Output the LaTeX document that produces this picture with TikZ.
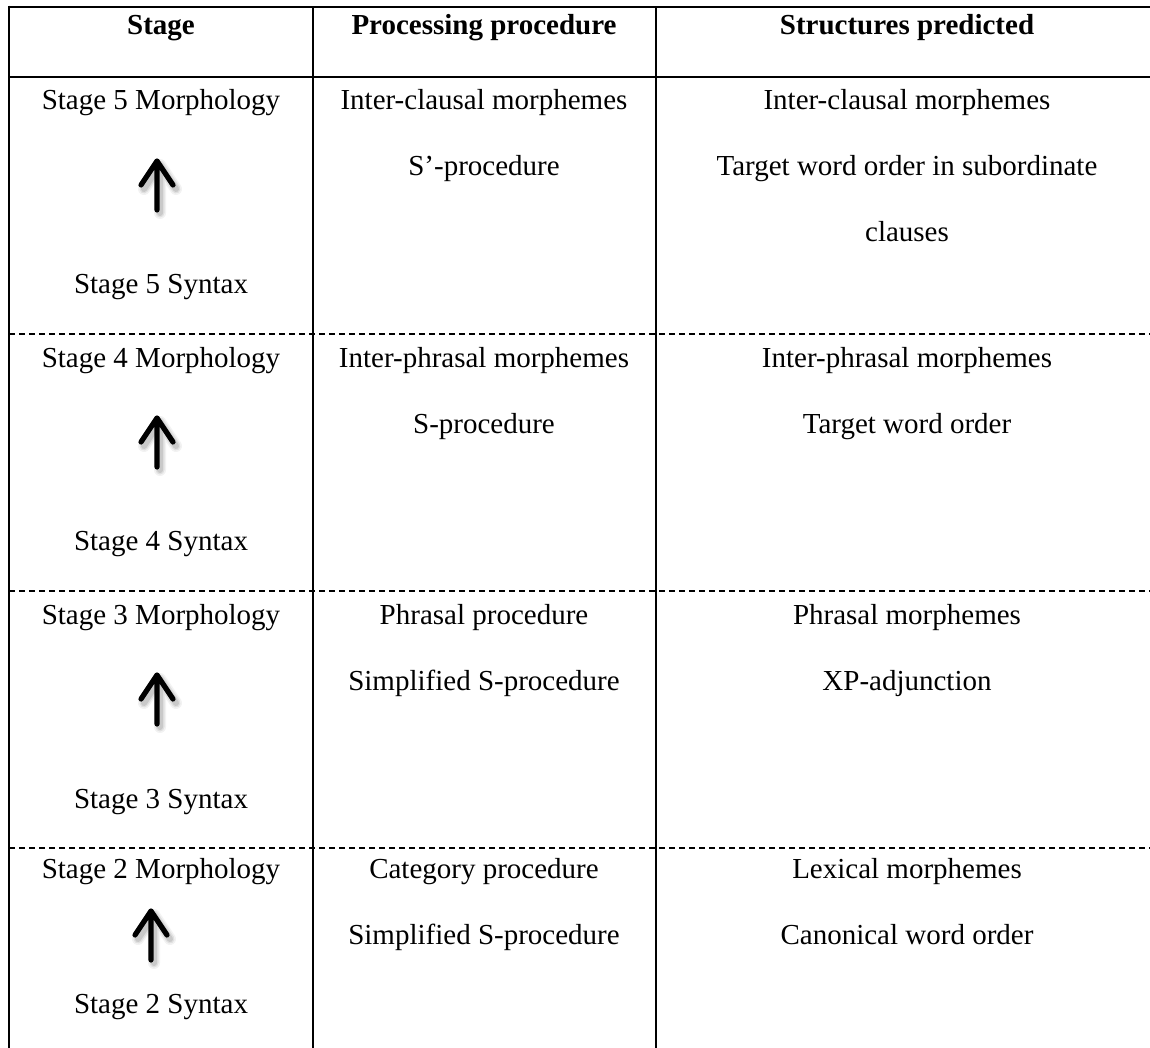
\documentclass[tikz,border=0pt]{standalone}
\usepackage{fontspec}
\setmainfont{Liberation Serif}
\begin{document}
\begin{tikzpicture}[x=0.5pt,y=-0.5pt,
  cell/.style={anchor=base,inner sep=0pt,font=\fontsize{14.5}{17}\selectfont},
  head/.style={cell,font=\fontsize{14.5}{17}\selectfont\bfseries},
  rule/.style={line width=1.4pt},
  rowsep/.style={line width=1pt,dash pattern=on 3pt off 2pt},
  uparrow/.pic={
    % soft shadow
    \foreach \w/\o in {12/0.05,9/0.07,6/0.10}{
      \draw[line width=\w*0.5pt,black,opacity=\o,line cap=round,line join=round]
        (3,53) -- (3,5) (-13,29) -- (3,5) -- (19,29);
    }
    \draw[line width=2.6pt,line cap=round,line join=round]
      (0,50) -- (0,1) (-16,25) -- (0,1) -- (16,25);
  }]
\useasboundingbox (0,0) rectangle (1150,1048);
\fill[white] (0,0) rectangle (1150,1048);

% table frame
\coordinate (tl) at (9,7);
\draw[rule] (9,7) -- (1150,7);
\draw[rule] (9,77) -- (1150,77);
\draw[rule] (9,5.6) -- (9,1048);
\draw[rule] (313,7) -- (313,1048);
\draw[rule] (656,7) -- (656,1048);
\foreach \y in {334,591,848}{\draw[rowsep] (9,\y) -- (1150,\y);}

% header
\node[head] (h1) at (161,35) {Stage};
\node[head] (h2) at (484,35) {Processing procedure};
\node[head] (h3) at (907,35) {Structures predicted};

% stage 5
\node[cell] (s5m) at (161,110) {Stage 5 Morphology};
\pic at (157,160) {uparrow};
\node[cell] (s5s) at (161,293) {Stage 5 Syntax};
\node[cell] (p5a) at (484,110) {Inter-clausal morphemes};
\node[cell] (p5b) at (484,176) {S’-procedure};
\node[cell] (r5a) at (907,110) {Inter-clausal morphemes};
\node[cell] (r5b) at (907,176) {Target word order in subordinate};
\node[cell] (r5c) at (907,242) {clauses};

% stage 4
\node[cell] (s4m) at (161,367) {Stage 4 Morphology};
\pic at (157,417) {uparrow};
\node[cell] (s4s) at (161,550) {Stage 4 Syntax};
\node[cell] (p4a) at (484,367) {Inter-phrasal morphemes};
\node[cell] (p4b) at (484,433) {S-procedure};
\node[cell] (r4a) at (907,367) {Inter-phrasal morphemes};
\node[cell] (r4b) at (907,433) {Target word order};

% stage 3
\node[cell] (s3m) at (161,624) {Stage 3 Morphology};
\pic at (157,674) {uparrow};
\node[cell] (s3s) at (161,808) {Stage 3 Syntax};
\node[cell] (p3a) at (484,624) {Phrasal procedure};
\node[cell] (p3b) at (484,690) {Simplified S-procedure};
\node[cell] (r3a) at (907,624) {Phrasal morphemes};
\node[cell] (r3b) at (907,690) {XP-adjunction};

% stage 2
\node[cell] (s2m) at (161,878) {Stage 2 Morphology};
\pic at (151,910) {uparrow};
\node[cell] (s2s) at (161,1013) {Stage 2 Syntax};
\node[cell] (p2a) at (484,878) {Category procedure};
\node[cell] (p2b) at (484,944) {Simplified S-procedure};
\node[cell] (r2a) at (907,878) {Lexical morphemes};
\node[cell] (r2b) at (907,944) {Canonical word order};
\end{tikzpicture}
\end{document}
